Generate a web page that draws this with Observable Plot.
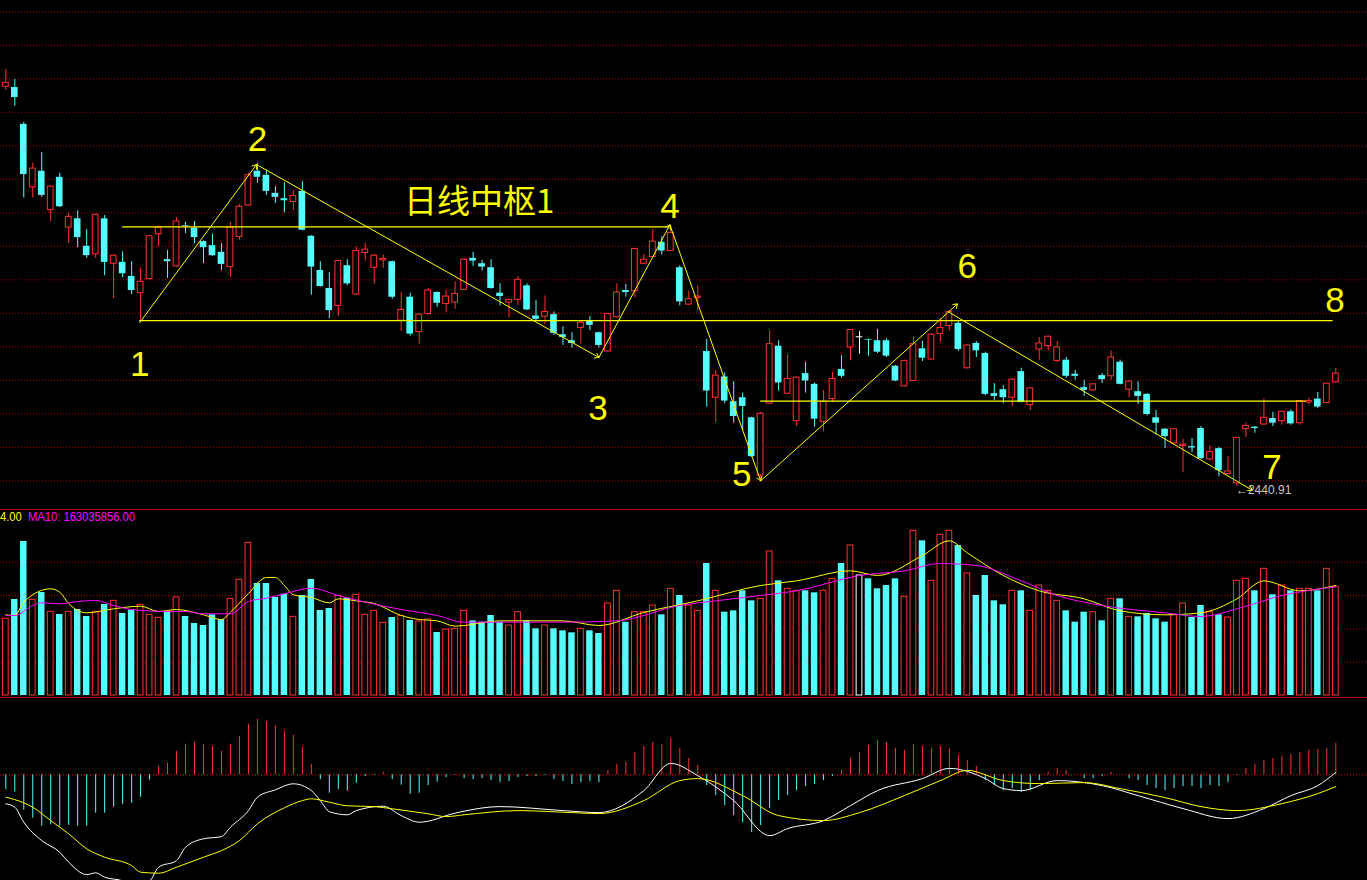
<!DOCTYPE html>
<html><head><meta charset="utf-8">
<script src="https://cdn.jsdelivr.net/npm/d3@7"></script>
<script src="https://cdn.jsdelivr.net/npm/@observablehq/plot@0.6"></script>
<style>
html,body{margin:0;padding:0;background:#000;overflow:hidden;}
#root{position:relative;width:1367px;height:880px;background:#000;overflow:hidden;}
.panel{position:absolute;left:0;}
.sep{position:absolute;left:0;width:1367px;height:1px;background:#c00000;}
#vlabel{position:absolute;left:0;top:509px;font:13px "Liberation Sans",Arial,sans-serif;white-space:nowrap;transform:scaleX(0.86);transform-origin:0 0;}
</style></head><body><div id="root"></div><script>
// ---- daily OHLC (index 0..148) ----
const opens = [3038,3037,2982,2888,2912,2854,2903,2828,2841,2800,
2788,2841,2774,2776,2755,2730,2751,2818,2780,2770,
2831,2827,2807,2801,2791,2769,2814,2861,2912,2906,
2879,2871,2866,2882,2815,2764,2737,2711,2771,2728,
2790,2768,2779,2777,2689,2724,2672,2699,2731,2714,
2716,2735,2782,2774,2768,2730,2716,2720,2741,2696,
2695,2698,2668,2659,2678,2688,2671,2643,2694,2734,
2733,2774,2784,2806,2793,2768,2713,2723,2643,2574,
2605,2568,2574,2544,2458,2565,2651,2580,2539,2610,
2594,2538,2572,2616,2649,2665,2661,2659,2659,2621,
2591,2599,2647,2631,2669,2681,2685,2618,2655,2640,
2580,2586,2574,2613,2563,2646,2651,2629,2630,2609,
2589,2585,2607,2606,2627,2586,2583,2579,2544,2527,
2506,2502,2501,2528,2482,2498,2460,2446,2527,2530,
2534,2543,2539,2553,2536,2567,2572,2566,2597];
const highs = [3064,3049,2985,2924,2940,2890,2909,2849,2853,2825,
2848,2846,2787,2792,2777,2767,2816,2830,2794,2843,
2836,2837,2808,2818,2804,2836,2862,2909,2924,2914,
2889,2895,2883,2897,2816,2777,2761,2779,2780,2799,
2804,2788,2787,2778,2731,2730,2699,2737,2732,2734,
2747,2782,2791,2779,2780,2744,2721,2755,2744,2719,
2726,2702,2680,2671,2688,2695,2672,2700,2744,2743,
2797,2788,2825,2814,2831,2771,2733,2741,2661,2615,
2611,2598,2581,2545,2552,2674,2659,2638,2605,2627,
2596,2585,2612,2637,2676,2673,2661,2676,2662,2622,
2630,2665,2658,2669,2692,2704,2689,2653,2658,2642,
2595,2592,2602,2618,2589,2664,2666,2658,2634,2615,
2600,2594,2610,2644,2630,2599,2598,2580,2555,2528,
2528,2512,2513,2531,2502,2500,2486,2515,2536,2531,
2572,2552,2554,2556,2570,2573,2582,2596,2618];
const lows = [3033,3009,2872,2872,2873,2837,2858,2804,2798,2782,
2782,2756,2722,2753,2728,2687,2750,2800,2752,2769,
2819,2804,2774,2785,2764,2754,2809,2860,2894,2876,
2864,2850,2853,2823,2727,2739,2692,2695,2741,2727,
2778,2743,2767,2721,2673,2666,2654,2697,2709,2701,
2706,2734,2770,2763,2736,2711,2693,2712,2704,2688,
2683,2667,2652,2648,2654,2674,2648,2642,2693,2724,
2723,2773,2783,2787,2792,2711,2712,2704,2560,2537,
2565,2536,2525,2485,2449,2564,2584,2579,2531,2581,
2530,2523,2567,2603,2629,2639,2636,2640,2634,2598,
2590,2598,2628,2630,2657,2674,2643,2617,2634,2577,
2570,2565,2561,2566,2555,2630,2644,2626,2603,2600,
2576,2584,2595,2600,2593,2574,2564,2547,2518,2498,
2505,2462,2492,2482,2479,2456,2459,2441,2515,2521,
2533,2531,2533,2533,2533,2563,2558,2565,2596];
const closes = [3044,3022,2907,2916,2876,2889,2859,2844,2813,2786,
2847,2776,2786,2759,2734,2747,2815,2828,2777,2837,
2830,2813,2798,2786,2773,2828,2859,2906,2903,2882,
2873,2868,2875,2824,2769,2740,2704,2778,2744,2793,
2795,2786,2781,2724,2705,2669,2698,2734,2715,2725,
2729,2780,2778,2769,2737,2725,2720,2750,2705,2691,
2702,2670,2664,2655,2686,2682,2652,2699,2731,2731,
2796,2780,2807,2793,2820,2717,2721,2725,2584,2607,
2569,2546,2561,2486,2550,2654,2596,2602,2604,2599,
2542,2568,2602,2606,2675,2665,2660,2642,2636,2599,
2629,2654,2633,2668,2678,2702,2646,2652,2644,2579,
2576,2574,2601,2567,2588,2655,2665,2649,2606,2606,
2585,2594,2601,2634,2594,2598,2576,2549,2536,2516,
2527,2504,2499,2483,2493,2465,2464,2514,2532,2528,
2544,2536,2553,2535,2569,2569,2560,2595,2610];
// ---- volume (million shares) ----
const volumes = [115,144,231,143.5,154.5,125.5,121.5,125.5,129,118.5,
125.5,136.5,142,123,128,136,121,116.5,126,147,
118.5,108,105,121,114,145,173.5,229,168,168,
147,152,118,150,174,127.5,130.5,149.5,146,151,
121,127,109,117,119.5,112.5,111,114,94.5,99,
100,127,112,110,120,110,105,125,112,100,
105,100,97,94,100,97,93,138,157,110,
125,125,135,121,160,150,135,127,198,157,
125,127,157,142,145,216,172,160,157,157,
154,157,175,198,225,180,175,160,165,175,
148,247,232,172,241,247,225,183,150,180,
142,136,157,157,127,165,157,142,127,110,
125,125,112,145,145,118,118,123,115,110,
121,138,117,135,125,121,117,172,175,157,
190,151,165,157,160,160,157,190,163];
const ma5Pts = [[0,121],[1,120],[2,140],[5,160],[6,155],[7,138],[9,124],[12,130],[15,134],[17,126],[19,129],[22,121],[24,114],[25,125],[27,153],[29,177],[30,177],[31,165],[32,151],[34,147],[36,139],[37,145],[39,142],[41,138],[44,120],[46,114],[48,112],[50,104],[55,112],[62,112],[66,105],[71,124.5],[77,142],[84,165],[88,172],[94,187],[97,180],[102,210],[105,232],[107,214],[111,180],[115,157],[120,145],[124,127],[129,121],[133,124],[137,145],[140,172],[144,157],[148,165]];
const ma10Pts = [[0,120],[1,120],[3,135],[4,139],[6,137.5],[8,141],[10,142.5],[12,135],[14,129],[18,126],[20,126],[22,122.5],[25,122.5],[27,141],[29,146],[31,152.5],[34,161],[37,150],[40,140],[44,129],[48,120],[51,110],[62,110],[68,112],[75,135],[79,142],[84,150],[88,157],[95,180],[100,187],[104,198],[108,195],[113,172],[117,150],[122,135],[129,124],[133,118.5],[137,130],[142,150],[148,163]];
// ---- MACD ----
const macdHist = [-7.4,-8.7,-17.7,-21.7,-25.7,-25,-25.7,-25.2,-25.7,-25.7,
-19.2,-19.2,-16.2,-14.9,-14.2,-11.2,-2.7,4.3,5.8,11.7,
15.3,16.2,15.2,14.2,11.7,15.3,19.2,25.2,27.7,26.7,
24.3,21.7,19.7,13.7,5.2,-2.4,-9.2,-7.4,-8.2,-4.2,
-0.9,-0.3,1.3,-2.4,-5.2,-9.7,-9.2,-5.4,-3.7,-1.4,
-0.3,-1.9,-2.4,-1.9,-2.9,-3.9,-3.4,-1.4,-0.9,-0.9,
-0.4,-2.4,-3.4,-4.9,-3.9,-3.4,-3.9,2.2,5.2,6.2,
11.2,14.2,16.2,15.2,18.2,13.2,8.2,4.7,-5.4,-10.4,
-15.4,-20.4,-23.9,-28.9,-25.4,-16.9,-12.9,-10.4,-7.9,-5.9,
-4.9,-2.9,-0.9,2.2,8.2,11.2,14.7,17.2,16.2,13.2,
12.2,15.2,14.2,13.2,14.2,13.2,9.7,7.2,4.2,-2.9,
-5.4,-7.9,-6.9,-8.9,-7.9,-2.9,1.2,3.2,2.2,0.2,
-1.9,-1.9,-0.9,1.2,0.2,-1.9,-2.9,-5.4,-6.9,-7.9,
-6.9,-5.9,-5.9,-6.9,-5.4,-5.9,-3.9,-0.4,3.2,5.2,
7.2,8.2,9.2,10.2,11.2,12.2,12.7,13.2,15.7];
const difPts = [[0,-14.5],[1,-16.2],[2,-23.7],[4,-32.9],[6,-38.7],[7,-43.7],[9,-49.9],[10,-49],[11,-51.2],[13,-53],[14,-55],[16,-53],[17,-46.2],[19,-42.9],[20,-36.2],[22,-32],[24,-30.9],[25,-26.2],[27,-17.9],[28,-11.2],[30,-7.5],[32,-4.5],[34,-7.9],[35,-12.9],[36,-18.4],[38,-20],[39,-17.9],[42,-15.7],[44,-20.4],[46,-23.7],[48,-22],[49,-20.4],[51,-18.2],[55,-15.9],[62,-17.9],[66,-18.9],[71,-7.9],[74,5.7],[77,-0.4],[81,-12.9],[85,-30.4],[87,-26.9],[91,-22.9],[94,-15.4],[97,-7.9],[102,-1.9],[105,3.2],[109,-1.9],[111,-6.9],[113,-7.9],[117,-2.9],[122,-5.4],[126,-10.4],[131,-16.9],[136,-21.9],[140,-16.9],[143,-10.4],[146,-5.4],[148,1.2]];
const deaPts = [[0,-11.2],[1,-12.4],[3,-16.2],[5,-22.9],[7,-29.5],[9,-37],[11,-41.2],[14,-45.4],[15,-48.7],[17,-49.2],[19,-46.2],[22,-41.2],[24,-37.9],[26,-32.9],[28,-24.5],[31,-16.5],[33,-12.9],[34,-12],[36,-13.7],[38,-15.5],[41,-15.9],[43,-17],[47,-19.5],[49,-20.9],[51,-20],[57,-17.9],[63,-18.9],[66,-19.4],[71,-12.9],[75,-2.9],[77,-1.9],[82,-10.4],[86,-20.4],[91,-22.9],[95,-18.9],[100,-10.4],[104,-2.9],[107,2.2],[111,-2.9],[115,-4.4],[120,-3.9],[124,-6.9],[129,-11.4],[133,-15.9],[137,-17.9],[142,-14.4],[146,-9.4],[148,-5.9]];
// ---- grid / annotation values ----
const priceGrid = [2450,2500,2550,2600,2650,2700,2750,2800,2850,2900,2950,3000,3050,3100,3150];
const volGrid = [50,100,150,200];
const centerLines = [{from:13,to:73.9,price:2829},{from:14.9,to:147.7,price:2689},{from:84,to:144.7,price:2569}];
const zigFrom = [[14.9,2686],[27.9,2922],[66,2634],[73.9,2832],[84,2450],[104.9,2702]];
const zigTo   = [[27.9,2922],[66,2634],[73.9,2832],[84,2450],[105.9,2714],[138.7,2436]];
const pointLabels = [["1",14.9,2623],["2",28,2959],["3",65.9,2558],["4",73.9,2859],["5",81.9,2459],["6",107,2769],["7",140.9,2470],["8",147.9,2719]];
const centerTitle = {text:"日线中枢1", i:44.3, price:2865};
const minMark = {text:"←2440.91", i:137, price:2441};

const RED="#ff3232", CYAN="#54fcfc", WHITE="#ffffff", YEL="#ffff00", MAG="#ff00ff", GRID="#b00000";
const candles = opens.map((o,i)=>({i, open:o, high:highs[i], low:lows[i], close:closes[i], vol:volumes[i], hist:macdHist[i]}));
const col = d => d.close>d.open?RED:(d.close<d.open?CYAN:WHITE);
const X = {type:"linear", domain:[0,148], range:[5.3,1335.3], axis:null};
const root = document.getElementById("root");
function place(el, top){ el.classList.add("panel"); el.style.top = top+"px"; root.appendChild(el); }

// price panel
const p1 = Plot.plot({
  width:1367, height:505, margin:0, x:X,
  y:{type:"linear", domain:[2450,3050], range:[480.3,78.3], axis:null},
  style:{background:"#000", overflow:"hidden"},
  marks:[
    Plot.ruleY(priceGrid,{stroke:GRID, strokeDasharray:"1,2"}),
    Plot.ruleX(candles,{x:"i", y1:"low", y2:"high", stroke:col}),
    Plot.rect(candles.filter(d=>d.close<d.open),{x1:d=>d.i-0.37,x2:d=>d.i+0.37,y1:"open",y2:"close",fill:CYAN}),
    Plot.rect(candles.filter(d=>d.close>d.open),{x1:d=>d.i-0.32,x2:d=>d.i+0.32,y1:"open",y2:"close",fill:"#000",stroke:RED}),
    Plot.ruleY(candles.filter(d=>d.close===d.open),{x1:d=>d.i-0.37,x2:d=>d.i+0.37,y:"open",stroke:WHITE}),
    Plot.ruleY(centerLines,{x1:"from",x2:"to",y:"price",stroke:YEL,strokeWidth:1.2}),
    Plot.arrow(zigFrom.map((f,k)=>({x1:f[0],y1:f[1],x2:zigTo[k][0],y2:zigTo[k][1]})),{x1:"x1",y1:"y1",x2:"x2",y2:"y2",stroke:YEL,strokeWidth:1,headLength:7,headAngle:70}),
    Plot.text(pointLabels,{x:d=>d[1],y:d=>d[2],text:d=>d[0],fill:YEL,fontSize:35,fontFamily:"Liberation Sans, Arial, sans-serif",lineAnchor:"middle"}),
    Plot.text([centerTitle],{x:"i",y:"price",text:"text",fill:YEL,fontSize:33,fontFamily:"Noto Sans CJK SC, sans-serif",textAnchor:"start",lineAnchor:"middle"}),
    Plot.text([minMark],{x:"i",y:"price",text:"text",fill:"#c8c8c8",fontSize:12,fontFamily:"Liberation Sans, Arial, sans-serif",textAnchor:"start",lineAnchor:"middle",dx:-1,dy:3})
  ]
});
place(p1,0);

// volume panel
const p2 = Plot.plot({
  width:1367, height:195, margin:0, x:X,
  y:{type:"linear", domain:[0,200], range:[190,56.67], axis:null},
  style:{background:"#000", overflow:"hidden"},
  marks:[
    Plot.ruleY(volGrid,{stroke:GRID, strokeDasharray:"1,2"}),
    Plot.rect(candles.filter(d=>d.close<d.open),{x1:d=>d.i-0.36,x2:d=>d.i+0.36,y1:0,y2:"vol",fill:CYAN}),
    Plot.rect(candles.filter(d=>d.close>=d.open),{x1:d=>d.i-0.32,x2:d=>d.i+0.32,y1:0,y2:"vol",fill:"#000",stroke:col}),
    Plot.line(ma5Pts,{x:d=>d[0],y:d=>d[1],stroke:YEL,strokeWidth:1,curve:"monotone-x"}),
    Plot.line(ma10Pts,{x:d=>d[0],y:d=>d[1],stroke:MAG,strokeWidth:1,curve:"monotone-x"})
  ]
});
place(p2,505);

// MACD panel
const p3 = Plot.plot({
  width:1367, height:180, margin:0, x:X,
  y:{type:"linear", domain:[0,-50], range:[74.3,174.3], axis:null},
  style:{background:"#000", overflow:"hidden"},
  marks:[
    Plot.ruleX(candles,{x:"i", y1:0, y2:"hist", stroke:d=>d.hist>=0?RED:CYAN, strokeWidth:1}),
    Plot.ruleY([0],{stroke:"#e00000", strokeDasharray:"1,2"}),
    Plot.line(difPts,{x:d=>d[0],y:d=>d[1],stroke:WHITE,strokeWidth:1,curve:"monotone-x"}),
    Plot.line(deaPts,{x:d=>d[0],y:d=>d[1],stroke:YEL,strokeWidth:1,curve:"monotone-x"})
  ]
});
place(p3,700);

// separators and volume label
const s1 = document.createElement("div"); s1.className="sep"; s1.style.top="509px"; root.appendChild(s1);
const s2 = document.createElement("div"); s2.className="sep"; s2.style.top="697px"; root.appendChild(s2);
const lab = document.createElement("div"); lab.id="vlabel";
lab.innerHTML = '<span style="color:#ffff00">4.00</span>&nbsp;&nbsp;<span style="color:#ff00ff">MA10: 163035856.00</span>';
root.appendChild(lab);
</script></body></html>
